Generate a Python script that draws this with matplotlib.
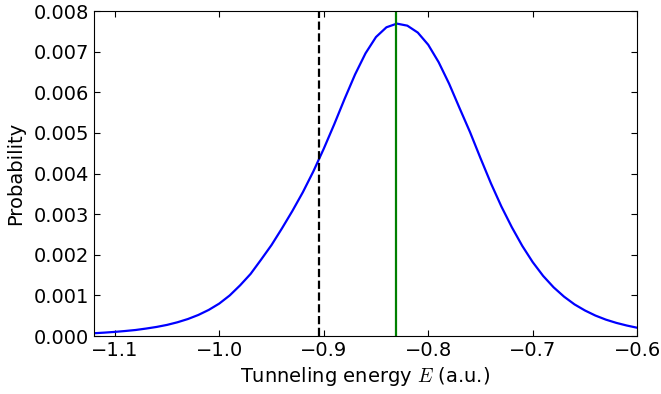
import matplotlib
matplotlib.use('Agg')
import matplotlib.pyplot as plt
from matplotlib.ticker import FormatStrFormatter, MultipleLocator

plt.rcParams['mathtext.fontset'] = 'cm'

# tunneling energy grid (a.u.) and probability
energy = [-1.12, -1.11, -1.10, -1.09, -1.08, -1.07, -1.06, -1.05, -1.04, -1.03,
          -1.02, -1.01, -1.00, -0.99, -0.98, -0.97, -0.96, -0.95, -0.94, -0.93,
          -0.92, -0.91, -0.90, -0.89, -0.88, -0.87, -0.86, -0.85, -0.84, -0.83,
          -0.82, -0.81, -0.80, -0.79, -0.78, -0.77, -0.76, -0.75, -0.74, -0.73,
          -0.72, -0.71, -0.70, -0.69, -0.68, -0.67, -0.66, -0.65, -0.64, -0.63,
          -0.62, -0.61, -0.60]
probability = [0.000070, 0.000085, 0.000103, 0.000125, 0.000150, 0.000185, 0.000225,
               0.000275, 0.00034, 0.00042, 0.00052, 0.000645, 0.00080, 0.00100,
               0.00125, 0.00153, 0.00188, 0.00224, 0.00265, 0.00308, 0.00354,
               0.00405, 0.00461, 0.00521, 0.00584, 0.00644, 0.00696, 0.00736,
               0.00760, 0.00769, 0.00764, 0.00747, 0.00717, 0.00674, 0.00621,
               0.00561, 0.00502, 0.00438, 0.00376, 0.00319, 0.00268, 0.00222,
               0.00182, 0.00148, 0.00120, 0.00097, 0.00078, 0.00063, 0.000505,
               0.000405, 0.000325, 0.00026, 0.000205]

barrier_energy = -0.9045   # dashed line
mean_energy = -0.8307      # green line

fig = plt.figure(figsize=(6.61, 3.94), dpi=100)
ax = fig.add_axes([0.142, 0.147, 0.822, 0.825])

ax.plot(energy, probability, color='blue', lw=1.6, solid_joinstyle='round')
ax.axvline(barrier_energy, color='black', ls='--', lw=1.6)
ax.axvline(mean_energy, color='green', lw=1.6)

ax.set_xlim(-1.12, -0.6)
ax.set_ylim(0, 0.008)
ax.xaxis.set_major_locator(MultipleLocator(0.1))
ax.yaxis.set_major_locator(MultipleLocator(0.001))
ax.yaxis.set_major_formatter(FormatStrFormatter('%.3f'))
ax.tick_params(direction='in', top=True, right=True, length=4, labelsize=14)

ax.set_xlabel('Tunneling energy $E$ (a.u.)', fontsize=14, labelpad=4)
ax.set_ylabel('Probability', fontsize=14, labelpad=6)

fig.savefig('out.png', dpi=100)
